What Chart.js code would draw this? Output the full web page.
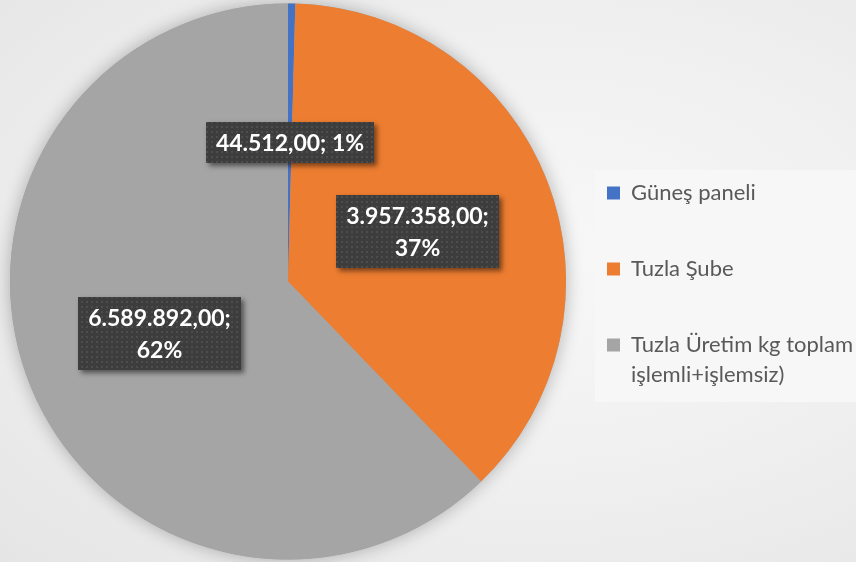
<!DOCTYPE html>
<html lang="tr">
<head>
    <meta charset="UTF-8">
    <title>Tuzla dağılım</title>
    <script src="https://cdn.jsdelivr.net/npm/chart.js"></script>
    <style>
        html, body {
            margin: 0;
            padding: 0;
        }
        body {
            width: 856px;
            height: 562px;
            overflow: hidden;
            background: radial-gradient(ellipse at 62% 45%, #f8f8f8 0%, #efefef 55%, #e5e5e5 100%);
            font-family: 'Lato', sans-serif;
        }
    </style>
</head>
<body>
    <canvas id="pieChart" width="856" height="562"></canvas>

    <script>
        const categories = ['Güneş paneli', 'Tuzla Şube', ['Tuzla Üretim kg toplam', 'işlemli+işlemsiz)']];
        const values = [44512, 3957358, 6589892];
        const percentLabels = ['1%', '37%', '62%'];
        const sliceColors = ['#4472C4', '#ED7D31', '#A5A5A5'];

        // 3957358 -> "3.957.358,00"
        function trNumber(v) {
            return String(Math.round(v)).replace(/\B(?=(\d{3})+(?!\d))/g, '.') + ',00';
        }

        // small dotted texture used on the value boxes
        const dotTile = document.createElement('canvas');
        dotTile.width = 5;
        dotTile.height = 5;
        const tctx = dotTile.getContext('2d');
        tctx.fillStyle = '#4d4d4d';
        tctx.fillRect(1, 1, 2, 2);

        const pieShadow = {
            id: 'pieShadow',
            beforeDatasetsDraw(chart) {
                const arc = chart.getDatasetMeta(0).data[0];
                if (!arc) return;
                const ctx = chart.ctx;
                ctx.save();
                ctx.shadowColor = 'rgba(0,0,0,0.28)';
                ctx.shadowBlur = 18;
                ctx.fillStyle = '#a5a5a5';
                ctx.beginPath();
                ctx.arc(arc.x, arc.y, arc.outerRadius, 0, Math.PI * 2);
                ctx.fill();
                ctx.restore();
            }
        };

        const legendPanel = {
            id: 'legendPanel',
            beforeDraw(chart) {
                const boxes = chart.legend && chart.legend.legendHitBoxes;
                if (!boxes || !boxes.length) return;
                const first = boxes[0];
                const last = boxes[boxes.length - 1];
                const ctx = chart.ctx;
                ctx.save();
                ctx.fillStyle = '#f7f7f7';
                const top = first.top - 12;
                ctx.fillRect(first.left - 12, top, chart.width, last.top + last.height + 8 - top);
                ctx.restore();
            }
        };

        const valueBoxes = {
            id: 'valueBoxes',
            afterDatasetsDraw(chart) {
                const ctx = chart.ctx;
                const meta = chart.getDatasetMeta(0);
                const lineH = 32;
                const pattern = ctx.createPattern(dotTile, 'repeat');
                ctx.save();
                ctx.font = 'bold 23px Lato';
                meta.data.forEach((arc, i) => {
                    const p = arc.tooltipPosition();
                    const head = trNumber(values[i]) + ';';
                    const full = head + ' ' + percentLabels[i];
                    const lines = ctx.measureText(full).width > 170 ? [head, percentLabels[i]] : [full];
                    const w = Math.round(Math.max(...lines.map(l => ctx.measureText(l).width)) + 20);
                    const h = lines.length * lineH + 9;
                    const x = Math.round(p.x - w / 2);
                    const y = Math.round(p.y - h / 2);

                    ctx.save();
                    ctx.shadowColor = 'rgba(0,0,0,0.5)';
                    ctx.shadowBlur = 5;
                    ctx.shadowOffsetX = 3;
                    ctx.shadowOffsetY = 3;
                    ctx.fillStyle = '#3d3d3d';
                    ctx.fillRect(x, y, w, h);
                    ctx.restore();
                    ctx.fillStyle = pattern;
                    ctx.fillRect(x, y, w, h);

                    ctx.fillStyle = '#ffffff';
                    ctx.textAlign = 'center';
                    ctx.textBaseline = 'middle';
                    lines.forEach((l, k) => {
                        ctx.fillText(l, x + w / 2, y + 4.5 + lineH * k + lineH / 2 + 1);
                    });
                });
                ctx.restore();
            }
        };

        new Chart(document.getElementById('pieChart'), {
            type: 'pie',
            data: {
                labels: categories,
                datasets: [{
                    data: values,
                    backgroundColor: sliceColors,
                    borderWidth: 0,
                    radius: 278,
                    clip: false,
                    hoverOffset: 0
                }]
            },
            options: {
                responsive: false,
                devicePixelRatio: 1,
                animation: false,
                events: [],
                layout: {
                    padding: { left: 23, top: 1, right: 0, bottom: 0 }
                },
                plugins: {
                    tooltip: { enabled: false },
                    legend: {
                        position: 'right',
                        align: 'center',
                        maxWidth: 303,
                        title: {
                            display: true,
                            text: '',
                            padding: 0,
                            font: { size: 10, lineHeight: '13px' }
                        },
                        labels: {
                            boxWidth: 13,
                            boxHeight: 13,
                            padding: 54,
                            color: '#595959',
                            font: { family: 'Lato', size: 22, lineHeight: '30px' }
                        }
                    }
                }
            },
            plugins: [legendPanel, pieShadow, valueBoxes]
        });
    </script>
</body>
</html>
